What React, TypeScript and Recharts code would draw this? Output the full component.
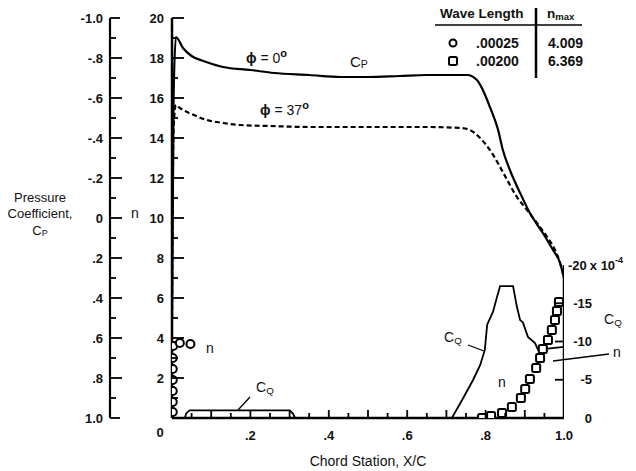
import React from 'react';
import { ComposedChart, Line, XAxis, YAxis, Label } from 'recharts';

const FONT = '"Liberation Sans", Arial, Helvetica, sans-serif';

// Pressure coefficient, phi = 0 deg (solid)
const cp0X = [0, 0.004, 0.01, 0.028, 0.05, 0.08, 0.13, 0.2, 0.26, 0.35, 0.43, 0.5, 0.58, 0.65, 0.753, 0.778, 0.793, 0.811, 0.832, 0.844, 0.862, 0.888, 0.913, 0.946, 0.972, 0.99, 1.0];
const cp0Y = [0.5, -0.6, -0.905, -0.85, -0.81, -0.785, -0.755, -0.74, -0.725, -0.715, -0.705, -0.705, -0.71, -0.715, -0.715, -0.69, -0.64, -0.555, -0.44, -0.34, -0.24, -0.125, -0.025, 0.075, 0.16, 0.225, 0.3];

// Pressure coefficient, phi = 37 deg (dashed)
const cp37X = [0, 0.004, 0.01, 0.02, 0.05, 0.089, 0.13, 0.173, 0.25, 0.35, 0.45, 0.55, 0.65, 0.735, 0.76, 0.786, 0.811, 0.837, 0.855, 0.88, 0.906, 0.931, 0.957, 0.977, 0.99, 1.0];
const cp37Y = [0.5, -0.45, -0.565, -0.55, -0.52, -0.49, -0.475, -0.465, -0.46, -0.455, -0.455, -0.455, -0.455, -0.45, -0.44, -0.4, -0.34, -0.255, -0.19, -0.105, -0.04, 0.025, 0.095, 0.16, 0.225, 0.3];

// Suction coefficient CQ (x 10^-4, magnitude)
const cqX = [0.714, 0.74, 0.768, 0.786, 0.798, 0.804, 0.819, 0.829, 0.837, 0.87, 0.88, 0.888, 0.895, 0.908, 0.926, 0.934, 0.964, 1.0];
const cqY = [0, 2.35, 4.97, 6.9, 8.9, 12.2, 13.9, 15.8, 17.25, 17.25, 14.5, 12.8, 12.5, 10.6, 9.8, 8.9, 9.1, 9.3];

// Small leading-edge suction region
const cqLowX = [0.033, 0.036, 0.045, 0.3, 0.308, 0.314];
const cqLowY = [0, 0.6, 1.0, 1.0, 0.6, 0];

// Trailing-edge (right) CQ axis line extent
const cqEdgeX = [1.0, 1.0];
const cqEdgeY = [0, 20];

// n, wave length .00025 (circles)
const circX = [0.002, 0.002, 0.002, 0.002, 0.002, 0.002, 0.003, 0.02, 0.047];
const circN = [0.3, 0.8, 1.35, 1.9, 2.45, 3.0, 3.6, 3.75, 3.7];

// n, wave length .00200 (squares)
const sqX = [0.791, 0.814, 0.842, 0.867, 0.89, 0.901, 0.913, 0.929, 0.939, 0.946, 0.959, 0.969, 0.977, 0.982, 0.987];
const sqN = [0.0, 0.1, 0.25, 0.55, 1.0, 1.45, 1.95, 2.5, 3.0, 3.45, 3.9, 4.4, 4.9, 5.35, 5.8];

// Ticks
const xTicks = [0, 0.05, 0.1, 0.15, 0.2, 0.25, 0.3, 0.35, 0.4, 0.45, 0.5, 0.55, 0.6, 0.65, 0.7, 0.75, 0.8, 0.85, 0.9, 0.95, 1.0];
const nTicks = [0, 1, 2, 3, 4, 5, 6, 7, 8, 9, 10, 11, 12, 13, 14, 15, 16, 17, 18, 19, 20];
const cpTicks = [-1, -0.9, -0.8, -0.7, -0.6, -0.5, -0.4, -0.3, -0.2, -0.1, 0, 0.1, 0.2, 0.3, 0.4, 0.5, 0.6, 0.7, 0.8, 0.9, 1.0];
const cqTicks = [0, 5, 10, 15, 20];
const cqTickLabels = ['0', '-5', '-10', '-15', '-20'];

const zip = (xs: number[], ys: number[]) => xs.map((x, i) => ({ x, y: ys[i] }));
const cp0Data = zip(cp0X, cp0Y);
const cp37Data = zip(cp37X, cp37Y);
const cqData = zip(cqX, cqY);
const cqLowData = zip(cqLowX, cqLowY);
const cqEdgeData = zip(cqEdgeX, cqEdgeY);
const circData = zip(circX, circN);
const sqData = zip(sqX, sqN);

const W = 628;
const H = 463;
const N_WIDTH = 62;

const N_ID = 'a';
const CP_ID = 'b';
const CQ_ID = 'c';

const numStyle = { fontFamily: FONT, fontSize: 13, fontWeight: 'bold' as const, fill: '#111' };

const XTick = (props: any) => {
  const { x, y, payload } = props;
  const k = Math.round(payload.value * 20);
  const major = k % 2 === 0;
  const len = major ? 8 : 5;
  const showLine = k > 0 && k < 20;
  const label = k % 4 === 0 && k > 0 ? (k === 20 ? '1.0' : '.' + k / 2) : null;
  return (
    <g>
      {showLine && <line x1={x} x2={x} y1={y} y2={y - len} stroke="#000" strokeWidth={1.8} />}
      {label && (
        <text x={x} y={y + 17} textAnchor="middle" dominantBaseline="central" {...numStyle}>
          {label}
        </text>
      )}
    </g>
  );
};

const NTick = (props: any) => {
  const { x, y, payload } = props;
  const v = Math.round(payload.value);
  const major = v % 2 === 0;
  return (
    <g>
      <line x1={x} x2={x + (major ? 12 : 6)} y1={y} y2={y} stroke="#000" strokeWidth={1.8} />
      {major && v !== 0 && (
        <text x={x - 8} y={y} textAnchor="end" dominantBaseline="central" {...numStyle}>
          {String(v)}
        </text>
      )}
      {v === 0 && (
        <text x={x - 12} y={y + 14} textAnchor="middle" dominantBaseline="central" {...numStyle}>
          0
        </text>
      )}
    </g>
  );
};

const fmtCp = (v: number) => {
  const k = Math.round(v * 10);
  if (k === 0) return '0';
  if (Math.abs(k) === 10) return (k < 0 ? '-' : '') + '1.0';
  return (k < 0 ? '-' : '') + '.' + Math.abs(k);
};

const CpTick = (props: any) => {
  const { x, y, payload } = props;
  const k = Math.round(payload.value * 10);
  const major = k % 2 === 0;
  const len = Math.abs(k) === 10 ? 10 : major ? 12 : 6;
  return (
    <g>
      <line x1={x} x2={x + len} y1={y} y2={y} stroke="#000" strokeWidth={1.8} />
      {major && (
        <text x={x - 7} y={y} textAnchor="end" dominantBaseline="central" {...numStyle}>
          {fmtCp(payload.value)}
        </text>
      )}
    </g>
  );
};

const CqTick = (props: any) => {
  const { x, y, payload, index } = props;
  const v = payload.value;
  const label = cqTickLabels[index] ?? String(-v);
  return (
    <g>
      {v > 0 && v < 20 && <line x1={x} x2={x - 9} y1={y} y2={y} stroke="#000" strokeWidth={1.8} />}
      {v === 20 ? (
        <text x={x + 4} y={y} textAnchor="start" dominantBaseline="central" {...numStyle}>
          {label}
          <tspan dx={3}>x 10</tspan>
          <tspan fontSize={9} dy={-5}>-4</tspan>
        </text>
      ) : (
        <text x={x + 28} y={y} textAnchor="end" dominantBaseline="central" {...numStyle}>
          {label}
        </text>
      )}
    </g>
  );
};

const CircleDot = (props: any) => {
  const { cx, cy, index } = props;
  return <circle key={`c${index}`} cx={cx} cy={cy} r={4} fill="#fff" stroke="#000" strokeWidth={2} />;
};

const SquareDot = (props: any) => {
  const { cx, cy, index } = props;
  return <rect key={`s${index}`} x={cx - 4} y={cy - 4} width={8} height={8} rx={1.5} fill="#fff" stroke="#000" strokeWidth={2} />;
};

const txt = { fontFamily: FONT, fill: '#111' };

const Sub = ({ x, y, main, sub, size = 14 }: any) => (
  <text x={x} y={y} dominantBaseline="central" fontSize={size} {...txt}>
    {main}
    <tspan fontSize={size * 0.7} dy={3}>{sub}</tspan>
  </text>
);

export default function App() {
  return (
    <div style={{ position: 'relative', width: W, height: H }}>
      <svg
        width={636}
        height={471}
        style={{ position: 'absolute', left: -8, top: -8, pointerEvents: 'none', overflow: 'visible' }}
      >
        <text x={40} y={197} textAnchor="middle" dominantBaseline="central" fontSize={13} {...txt}>Pressure</text>
        <text x={40} y={213} textAnchor="middle" dominantBaseline="central" fontSize={13} {...txt}>Coefficient,</text>
        <text x={40} y={230} textAnchor="middle" dominantBaseline="central" fontSize={13} {...txt}>
          C<tspan fontSize={9} dy={3}>P</tspan>
        </text>
        <text x={135} y={213} textAnchor="middle" dominantBaseline="central" fontSize={14} {...txt}>n</text>

        <text x={246} y={58} dominantBaseline="central" fontSize={14} fontWeight="bold" {...txt}>
          ϕ<tspan fontWeight="normal" dx={4}>= 0</tspan>
          <tspan fontSize={11} fontWeight="bold" dy={-5}>o</tspan>
        </text>
        <Sub x={350} y={61} main="C" sub="P" size={15} />
        <text x={260} y={110} dominantBaseline="central" fontSize={14} fontWeight="bold" {...txt}>
          ϕ<tspan fontWeight="normal" dx={4}>= 37</tspan>
          <tspan fontSize={11} fontWeight="bold" dy={-5}>o</tspan>
        </text>

        <text x={210} y={348} textAnchor="middle" dominantBaseline="central" fontSize={14} {...txt}>n</text>
        <Sub x={256} y={387} main="C" sub="Q" size={14} />
        <line x1={250} y1={397} x2={238} y2={410} stroke="#000" strokeWidth={1.3} />

        <Sub x={444} y={337} main="C" sub="Q" size={14} />
        <line x1={468} y1={345} x2={484} y2={351} stroke="#000" strokeWidth={1.3} />
        <text x={502} y={382} textAnchor="middle" dominantBaseline="central" fontSize={14} {...txt}>n</text>

        <Sub x={604} y={319} main="C" sub="Q" size={14} />
        <text x={617} y={352} textAnchor="middle" dominantBaseline="central" fontSize={14} {...txt}>n</text>
        <line x1={609} y1={354} x2={553} y2={361} stroke="#000" strokeWidth={1.3} />

        <text x={440} y={13} dominantBaseline="central" fontSize={13.5} fontWeight="bold" {...txt}>Wave Length</text>
        <text x={547} y={13} dominantBaseline="central" fontSize={13.5} fontWeight="bold" {...txt}>
          n<tspan fontSize={9.5} dy={3}>max</tspan>
        </text>
        <line x1={435} y1={25} x2={582} y2={25} stroke="#000" strokeWidth={1.5} />
        <line x1={536} y1={3} x2={536} y2={78} stroke="#000" strokeWidth={2.5} />
        <circle cx={453} cy={43} r={3.5} fill="#fff" stroke="#000" strokeWidth={2} />
        <text x={476} y={43} dominantBaseline="central" {...numStyle} fontSize={14}>.00025</text>
        <text x={548} y={43} dominantBaseline="central" {...numStyle} fontSize={14}>4.009</text>
        <rect x={449} y={57} width={8} height={8} rx={1.5} fill="#fff" stroke="#000" strokeWidth={2} />
        <text x={476} y={61} dominantBaseline="central" {...numStyle} fontSize={14}>.00200</text>
        <text x={548} y={61} dominantBaseline="central" {...numStyle} fontSize={14}>6.369</text>
      </svg>
      <ComposedChart width={W} height={H} margin={{ top: 10, right: 12, bottom: 8, left: 42 }}>
        <XAxis
          type="number"
          dataKey="x"
          domain={[0, 1]}
          ticks={xTicks}
          interval={0}
          allowDataOverflow
          height={45}
          tick={XTick}
          tickLine={false}
          tickSize={0}
          tickMargin={0}
          axisLine={{ stroke: '#000', strokeWidth: 2.5 }}
        >
          <Label
            value="Chord Station, X/C"
            position="insideBottom"
            offset={-3}
            style={{ fontFamily: FONT, fontSize: 14, fill: '#111' }}
          />
        </XAxis>
        <YAxis
          yAxisId={N_ID}
          orientation="left"
          type="number"
          domain={[0, 20]}
          allowDataOverflow
          ticks={nTicks}
          interval={0}
          width={N_WIDTH}
          tick={NTick}
          tickLine={false}
          tickSize={0}
          tickMargin={0}
          axisLine={{ stroke: '#000', strokeWidth: 2.5 }}
        />
        <YAxis
          yAxisId={CP_ID}
          orientation="left"
          type="number"
          domain={[-1, 1]}
          reversed
          allowDataOverflow
          ticks={cpTicks}
          interval={0}
          width={60}
          tick={CpTick}
          tickLine={false}
          tickSize={0}
          tickMargin={0}
          axisLine={{ stroke: '#000', strokeWidth: 2.2 }}
        />
        <YAxis
          yAxisId={CQ_ID}
          orientation="right"
          type="number"
          domain={[0, 52.29]}
          allowDataOverflow
          ticks={cqTicks}
          interval={0}
          width={60}
          tick={CqTick}
          tickLine={false}
          tickSize={0}
          tickMargin={0}
          axisLine={false}
        />
        <Line yAxisId={CQ_ID} data={cqEdgeData} dataKey="y" type="linear" stroke="#000" strokeWidth={2.5} dot={false} isAnimationActive={false} />
        <Line yAxisId={CQ_ID} data={cqLowData} dataKey="y" type="linear" stroke="#000" strokeWidth={1.8} dot={false} isAnimationActive={false} />
        <Line yAxisId={CQ_ID} data={cqData} dataKey="y" type="linear" stroke="#000" strokeWidth={1.8} dot={false} isAnimationActive={false} />
        <Line yAxisId={CP_ID} data={cp0Data} dataKey="y" type="monotone" stroke="#000" strokeWidth={2.2} dot={false} isAnimationActive={false} />
        <Line yAxisId={CP_ID} data={cp37Data} dataKey="y" type="monotone" stroke="#000" strokeWidth={2.2} strokeDasharray="5 3" dot={false} isAnimationActive={false} />
        <Line yAxisId={N_ID} data={sqData} dataKey="y" type="linear" stroke="none" dot={SquareDot} activeDot={false} isAnimationActive={false} />
        <Line yAxisId={N_ID} data={circData} dataKey="y" type="linear" stroke="none" dot={CircleDot} activeDot={false} isAnimationActive={false} />
      </ComposedChart>
    </div>
  );
}
